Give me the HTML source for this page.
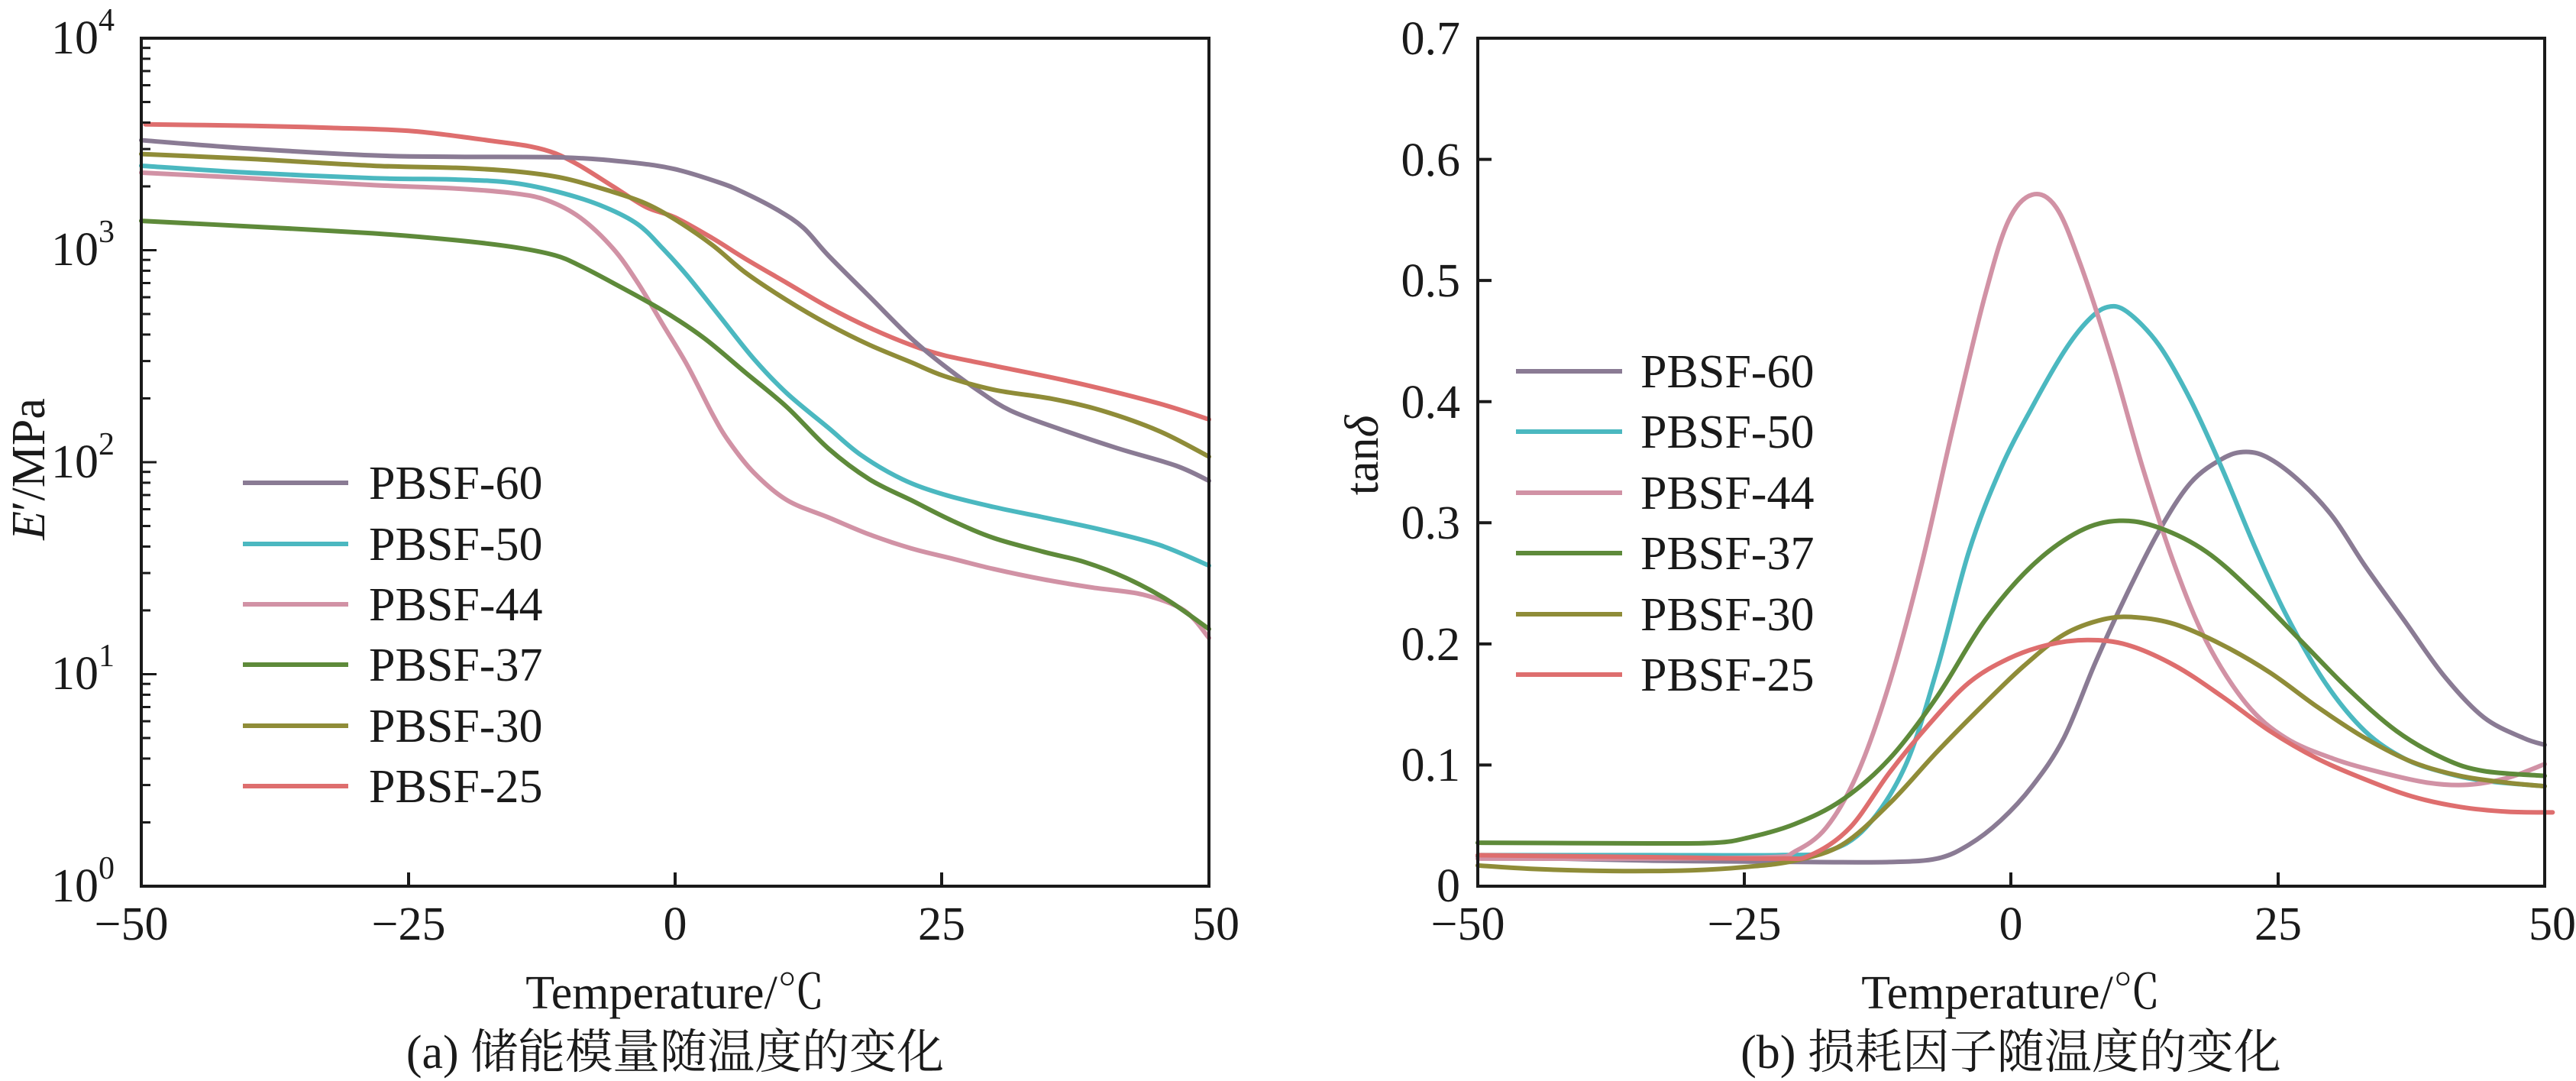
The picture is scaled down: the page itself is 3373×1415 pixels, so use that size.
<!DOCTYPE html>
<html><head><meta charset="utf-8"><style>
html,body{margin:0;padding:0;background:#fff}
svg{display:block}
text{font-family:"Liberation Serif","Noto Serif CJK SC","Noto Sans CJK SC",serif;fill:#1a1a1a}
.c{fill:none;stroke-width:6;stroke-linejoin:round;stroke-linecap:round}
</style></head><body>
<svg id="S" width="3373" height="1415" viewBox="0 0 3373 1415" xmlns="http://www.w3.org/2000/svg">
<!-- LEFT PLOT -->
<g transform="matrix(1.0837 0 0 0.9024 0.77 0.37)">
<polyline class="c" vector-effect="non-scaling-stroke" stroke="#de6e6e" points="175,180 300,182 400,185 500,190 600,205 640,212 670,222 700,240 740,270 780,300 815,315 860,345 900,375 950,410 1000,445 1050,475 1100,500 1140,515 1200,530 1300,555 1400,585 1460,608"/>
<polyline class="c" vector-effect="non-scaling-stroke" stroke="#8a7b94" points="170,203 300,215 450,225 550,227 680,228 760,235 815,245 870,265 900,280 940,305 970,330 1000,370 1050,430 1100,490 1140,530 1180,565 1220,595 1280,622 1350,650 1420,675 1460,697"/>
<polyline class="c" vector-effect="non-scaling-stroke" stroke="#8f8c38" points="170,223 300,230 450,240 550,243 620,248 680,258 740,278 780,295 815,318 860,355 900,395 950,435 1000,470 1050,500 1100,525 1140,545 1200,565 1270,578 1330,595 1400,625 1460,662"/>
<polyline class="c" vector-effect="non-scaling-stroke" stroke="#4bb8c0" points="170,240 300,250 450,258 550,260 620,265 680,280 730,300 770,325 800,360 830,400 870,460 910,520 950,570 1000,620 1040,660 1090,695 1140,717 1200,735 1260,750 1330,768 1400,790 1460,820"/>
<polyline class="c" vector-effect="non-scaling-stroke" stroke="#d192a5" points="170,250 300,258 450,268 550,273 620,280 660,290 700,315 740,360 770,410 800,470 830,530 860,600 880,640 910,685 950,725 1000,750 1050,775 1100,795 1150,810 1200,825 1260,840 1320,852 1380,862 1430,885 1460,925"/>
<polyline class="c" vector-effect="non-scaling-stroke" stroke="#5e8a3a" points="170,320 300,328 450,338 550,348 620,358 670,370 700,385 740,410 800,450 850,490 900,540 950,590 1000,650 1050,695 1100,725 1150,755 1200,780 1260,800 1310,815 1360,838 1410,870 1460,912"/>
</g>
<rect x="185" y="50" width="1398" height="1110" fill="none" stroke="#1a1a1a" stroke-width="4"/>
<g stroke="#1a1a1a" stroke-width="4">
<line x1="535" y1="1160" x2="535" y2="1142"/><line x1="884" y1="1160" x2="884" y2="1142"/><line x1="1233" y1="1160" x2="1233" y2="1142"/>
</g>
<g stroke="#1a1a1a" stroke-width="3" id="minor"></g>
<g font-size="62" text-anchor="end">
<text x="150" y="1180">10<tspan font-size="42" dy="-30">0</tspan></text>
<text x="150" y="902">10<tspan font-size="42" dy="-30">1</tspan></text>
<text x="150" y="625">10<tspan font-size="42" dy="-30">2</tspan></text>
<text x="150" y="347">10<tspan font-size="42" dy="-30">3</tspan></text>
<text x="150" y="70">10<tspan font-size="42" dy="-30">4</tspan></text>
</g>
<g font-size="62" text-anchor="middle">
<text x="172" y="1230">−50</text><text x="535" y="1230">−25</text><text x="884" y="1230">0</text><text x="1233" y="1230">25</text><text x="1592" y="1230">50</text>
<text x="884" y="1320">Temperature/℃</text>
<text x="884" y="1398">(a) 储能模量随温度的变化</text>
</g>
<text font-size="62" text-anchor="middle" transform="translate(58,614) rotate(-90)"><tspan font-style="italic">E</tspan>′/MPa</text>
<g stroke-width="6">
<line x1="318" y1="632" x2="456" y2="632" stroke="#8a7b94"/>
<line x1="318" y1="712" x2="456" y2="712" stroke="#4bb8c0"/>
<line x1="318" y1="791" x2="456" y2="791" stroke="#d192a5"/>
<line x1="318" y1="870" x2="456" y2="870" stroke="#5e8a3a"/>
<line x1="318" y1="950" x2="456" y2="950" stroke="#8f8c38"/>
<line x1="318" y1="1029" x2="456" y2="1029" stroke="#de6e6e"/>
</g>
<g font-size="62">
<text x="483" y="653">PBSF-60</text><text x="483" y="733">PBSF-50</text><text x="483" y="812">PBSF-44</text>
<text x="483" y="891">PBSF-37</text><text x="483" y="971">PBSF-30</text><text x="483" y="1050">PBSF-25</text>
</g>

<!-- RIGHT PLOT -->
<g transform="matrix(1.0371 0 0 0.9024 1748.3 0.37)">
<polyline class="c" vector-effect="non-scaling-stroke" stroke="#8a7b94" points="180,1242 400,1248 600,1250 700,1250 760,1245 800,1225 840,1190 880,1140 920,1070 960,960 1000,860 1040,770 1080,700 1120,665 1150,655 1180,665 1220,700 1260,750 1300,820 1350,900 1400,980 1450,1040 1500,1070 1527,1080"/>
<polyline class="c" vector-effect="non-scaling-stroke" stroke="#4bb8c0" points="180,1240 400,1240 560,1240 620,1235 670,1200 720,1110 760,970 800,800 840,680 880,590 920,510 950,465 975,445 1000,452 1040,500 1080,580 1120,680 1160,790 1200,890 1250,990 1300,1060 1350,1100 1400,1120 1450,1132 1527,1140"/>
<polyline class="c" vector-effect="non-scaling-stroke" stroke="#d192a5" points="180,1245 400,1245 550,1243 580,1235 620,1200 660,1120 700,990 740,820 780,620 820,430 850,320 880,282 910,300 940,380 980,520 1020,680 1060,820 1100,930 1150,1020 1200,1070 1260,1100 1320,1120 1380,1135 1430,1138 1480,1128 1527,1108"/>
<polyline class="c" vector-effect="non-scaling-stroke" stroke="#5e8a3a" points="180,1222 400,1223 480,1222 520,1215 580,1195 640,1160 700,1100 760,1010 820,900 880,820 940,770 990,755 1040,765 1100,800 1160,860 1220,930 1280,1000 1340,1060 1400,1100 1450,1118 1527,1125"/>
<polyline class="c" vector-effect="non-scaling-stroke" stroke="#8f8c38" points="180,1255 250,1260 350,1263 450,1262 520,1257 580,1248 640,1225 700,1165 760,1090 820,1020 870,965 920,920 970,898 1010,895 1060,905 1120,935 1180,975 1240,1025 1300,1070 1360,1105 1420,1125 1480,1135 1527,1140"/>
<polyline class="c" vector-effect="non-scaling-stroke" stroke="#de6e6e" points="180,1240 400,1243 560,1245 600,1240 650,1200 700,1120 750,1050 800,990 850,955 900,935 950,928 1000,935 1060,965 1120,1010 1180,1060 1240,1100 1300,1130 1360,1155 1420,1170 1480,1177 1537,1178"/>
</g>
<rect x="1935" y="50" width="1397" height="1110" fill="none" stroke="#1a1a1a" stroke-width="4"/>
<g stroke="#1a1a1a" stroke-width="4">
<line x1="2284" y1="1160" x2="2284" y2="1142"/><line x1="2633" y1="1160" x2="2633" y2="1142"/><line x1="2983" y1="1160" x2="2983" y2="1142"/>
<line x1="1935" y1="1001.4" x2="1953" y2="1001.4"/><line x1="1935" y1="842.9" x2="1953" y2="842.9"/><line x1="1935" y1="684.3" x2="1953" y2="684.3"/>
<line x1="1935" y1="525.7" x2="1953" y2="525.7"/><line x1="1935" y1="367.1" x2="1953" y2="367.1"/><line x1="1935" y1="208.6" x2="1953" y2="208.6"/>
</g>
<g font-size="62" text-anchor="end">
<text x="1912" y="1180">0</text><text x="1912" y="1022">0.1</text><text x="1912" y="864">0.2</text><text x="1912" y="705">0.3</text>
<text x="1912" y="547">0.4</text><text x="1912" y="388">0.5</text><text x="1912" y="230">0.6</text><text x="1912" y="71">0.7</text>
</g>
<g font-size="62" text-anchor="middle">
<text x="1922" y="1230">−50</text><text x="2284" y="1230">−25</text><text x="2633" y="1230">0</text><text x="2983" y="1230">25</text><text x="3342" y="1230">50</text>
<text x="2633" y="1320">Temperature/℃</text>
<text x="2633" y="1398">(b) 损耗因子随温度的变化</text>
</g>
<text font-size="62" text-anchor="middle" transform="translate(1804,596) rotate(-90)">tan<tspan font-style="italic">δ</tspan></text>
<g stroke-width="6">
<line x1="1985" y1="486" x2="2124" y2="486" stroke="#8a7b94"/>
<line x1="1985" y1="565" x2="2124" y2="565" stroke="#4bb8c0"/>
<line x1="1985" y1="645" x2="2124" y2="645" stroke="#d192a5"/>
<line x1="1985" y1="724" x2="2124" y2="724" stroke="#5e8a3a"/>
<line x1="1985" y1="804" x2="2124" y2="804" stroke="#8f8c38"/>
<line x1="1985" y1="883" x2="2124" y2="883" stroke="#de6e6e"/>
</g>
<g font-size="62">
<text x="2148" y="507">PBSF-60</text><text x="2148" y="586">PBSF-50</text><text x="2148" y="666">PBSF-44</text>
<text x="2148" y="745">PBSF-37</text><text x="2148" y="825">PBSF-30</text><text x="2148" y="904">PBSF-25</text>
</g>
</svg>
<script>
(function(){
var NS="http://www.w3.org/2000/svg";
var g=document.getElementById('minor');
for(var d=0;d<4;d++){for(var m=1;m<=9;m++){if(m==1&&d==0)continue;
var y=1160-277.5*(d+Math.log10(m));var L=(m==1)?20:12;
var l=document.createElementNS(NS,'line');l.setAttribute('x1',185);l.setAttribute('x2',185+L);
l.setAttribute('y1',y);l.setAttribute('y2',y);g.appendChild(l);}}
var pls=document.querySelectorAll('polyline.c');
for(var i=0;i<pls.length;i++){var pl=pls[i];
var p=pl.getAttribute('points').trim().split(/\s+/).map(function(s){return s.split(',').map(Number);});
var d='M'+p[0][0]+','+p[0][1];
for(var k=0;k<p.length-1;k++){var p0=p[k-1]||p[k],p1=p[k],p2=p[k+1],p3=p[k+2]||p2;
var c1x=p1[0]+(p2[0]-p0[0])/6,c1y=p1[1]+(p2[1]-p0[1])/6,c2x=p2[0]-(p3[0]-p1[0])/6,c2y=p2[1]-(p3[1]-p1[1])/6;
d+=' C'+c1x+','+c1y+' '+c2x+','+c2y+' '+p2[0]+','+p2[1];}
var pa=document.createElementNS(NS,'path');pa.setAttribute('d',d);pa.setAttribute('class','c');
pa.setAttribute('stroke',pl.getAttribute('stroke'));pa.setAttribute('vector-effect','non-scaling-stroke');
pl.parentNode.replaceChild(pa,pl);}
})();
</script>
</body></html>
